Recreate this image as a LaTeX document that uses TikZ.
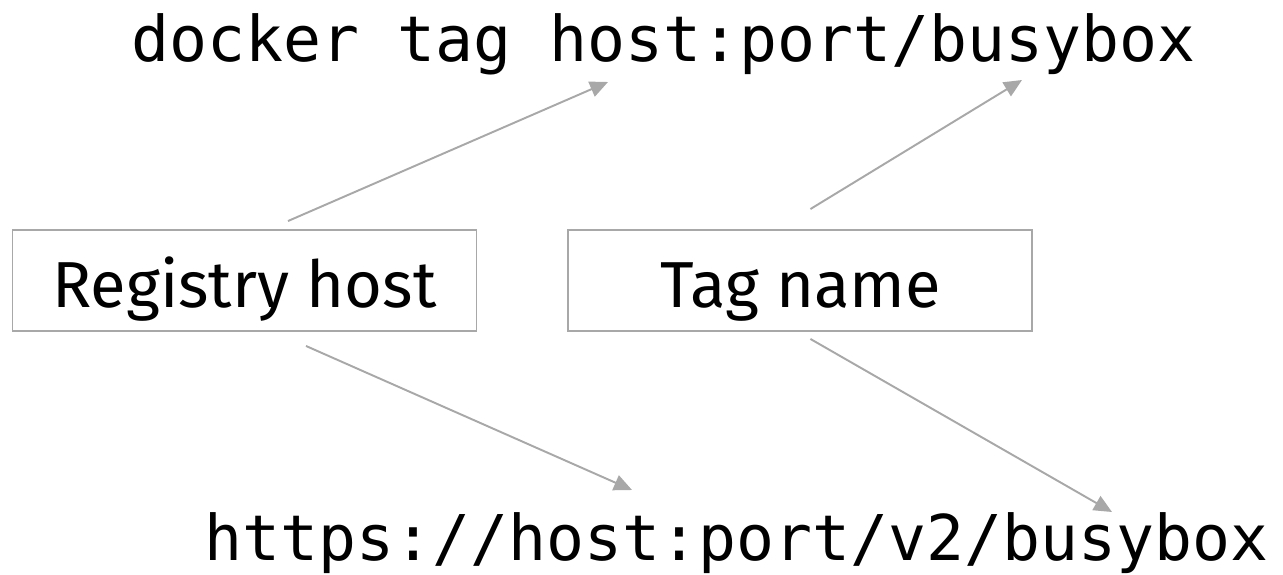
\documentclass[tikz,border=0pt]{standalone}
\usepackage{fontspec}
\newfontfamily\codefont{DejaVu Sans Mono}
\newfontfamily\boxfont{Fira Sans}
\usetikzlibrary{positioning, arrows.meta}
\definecolor{linegray}{HTML}{A8A8A8}

\begin{document}
\begin{tikzpicture}[
  box/.style={rectangle, draw=linegray, line width=1.1pt, minimum width=9.28cm, minimum height=2.02cm, inner sep=0pt, text height=1.06cm, text depth=0cm, font=\boxfont\fontsize{37}{40}\selectfont},
  code/.style={inner sep=0pt, anchor=base, font=\codefont\fontsize{35.9}{40}\selectfont},
  link/.style={-{Triangle[length=0.36cm, width=0.32cm]}, draw=linegray, line width=1.1pt}
]
\useasboundingbox (0,0) rectangle (25.66,11.48);
\node[code] (cmd) at (13.27,10.24) {docker tag host:port/busybox};
\node[code] (url) at (14.73,0.27) {https://host:port/v2/busybox};
\node[box] (reg) at (4.89,5.87) {Registry host};
\node[box, right=1.8cm of reg] (tag) {Tag name};
\coordinate (cmdhost) at (12.16,9.84);
\coordinate (cmdname) at (20.44,9.88);
\coordinate (urlhost) at (12.64,1.68);
\coordinate (urlname) at (22.24,1.24);
\draw[link] ([xshift=0.87cm, yshift=0.16cm]reg.north) -- (cmdhost);
\draw[link] ([xshift=0.2cm, yshift=0.4cm]tag.north) -- (cmdname);
\draw[link] ([xshift=1.23cm, yshift=-0.28cm]reg.south) -- (urlhost);
\draw[link] ([xshift=0.2cm, yshift=-0.14cm]tag.south) -- (urlname);
\end{tikzpicture}
\end{document}
